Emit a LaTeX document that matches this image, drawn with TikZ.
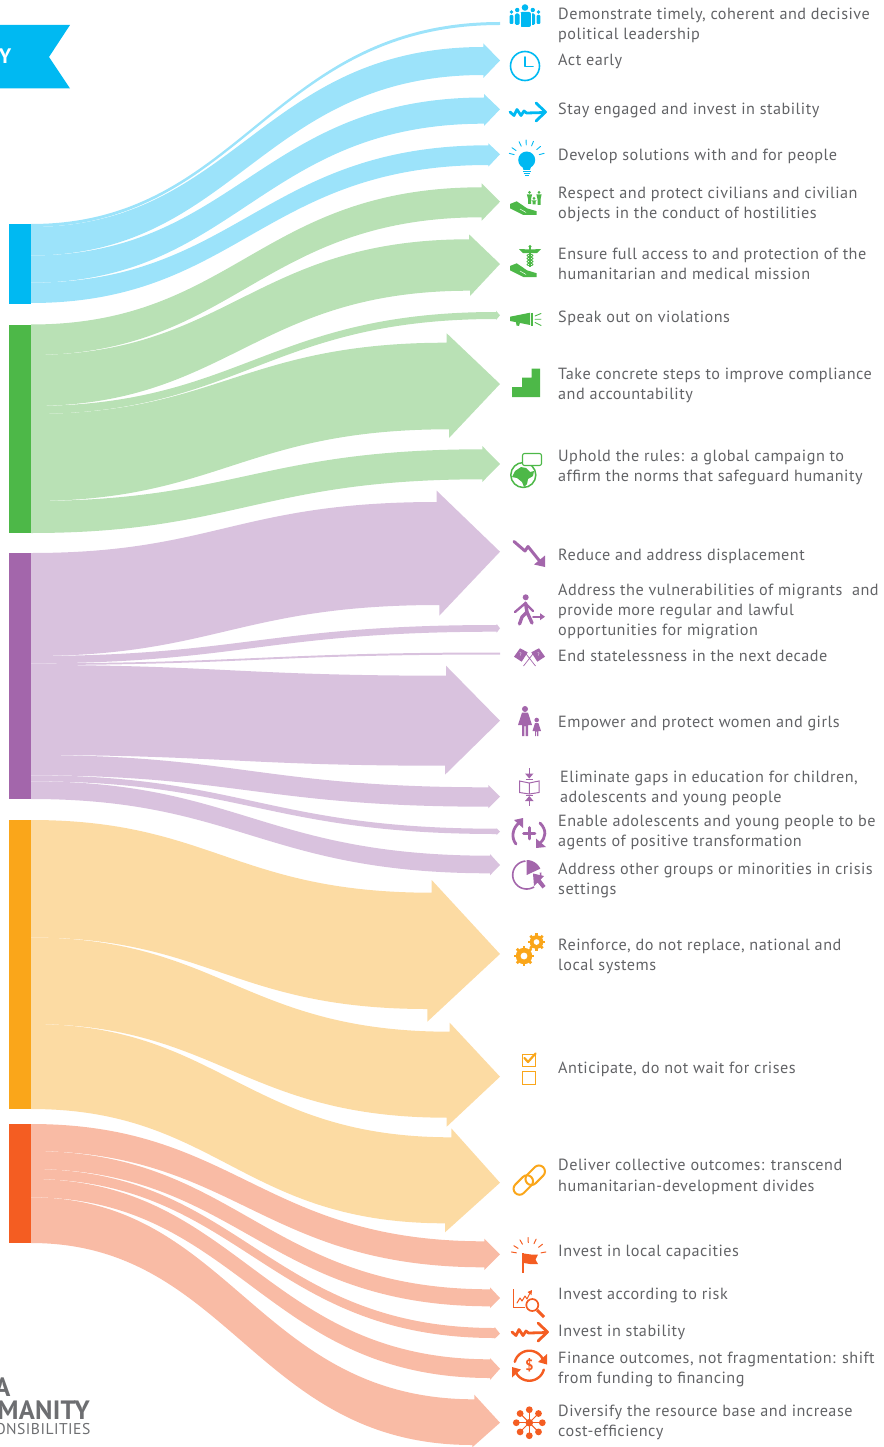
\documentclass[tikz,border=0pt]{standalone}
\usepackage{fontspec}
\setmainfont[LetterSpace=3]{PT Sans}
\newfontfamily\logobold[LetterSpace=1]{PT Sans Bold}
\definecolor{barblue}{HTML}{00B9F2}\definecolor{flowblue}{HTML}{9CE3FA}
\definecolor{bargreen}{HTML}{4DB848}\definecolor{flowgreen}{HTML}{B9E1B5}
\definecolor{barpurple}{HTML}{A366AB}\definecolor{flowpurple}{HTML}{D9C2DE}
\definecolor{barorange}{HTML}{FAA61A}\definecolor{floworange}{HTML}{FCDBA3}
\definecolor{barred}{HTML}{F45D22}\definecolor{flowred}{HTML}{F9BBA5}
\definecolor{txtgrey}{HTML}{626366}\definecolor{logogrey}{HTML}{6D6E71}
\tikzset{
 barbox/.style={draw=none,inner sep=0pt,minimum width=22pt},
 lbl/.style={anchor=north west,inner sep=0pt,align=left,text=txtgrey,font=\fontsize{16.2}{20}\selectfont},
 ic/.style={line width=#1,line cap=round,line join=round},
 ic/.default=1.5pt
}
\newcommand{\lbl}[4]{\node[lbl] (#1) at (#2,{#3-14}) {\strut #4};}
\newcommand{\zig}[3]{% x,y,colour: stability arrow
 \draw[#3,ic=2.8pt] (#1,#2) -- ++(4,3.5) -- ++(3,-6) -- ++(4,6) -- ++(3,-4.5) -- ++(2.5,2) -- ++(18.5,-.5);
 \draw[#3,ic=2.8pt] (#1+26,#2-9) -- (#1+35.5,#2) -- (#1+26,#2+9);}
\newcommand{\handic}[1]{%
 \fill[bargreen] (510,204+#1) -- (516.7,201.3+#1) -- (527,208.3+#1) -- (536.5,211.2+#1) -- (536.5,215+#1) -- (523.3,215+#1) -- (510,208.3+#1) -- cycle;
 \draw[white,line width=.5pt] (520,209+#1) -- (526,212.5+#1);}
\newcommand{\pers}[4]{% x, top y, height, colour
 \fill[#4] (#1,#2+1.3) circle (1.5);
 \fill[#4] (#1-2.6,#2+3.5) -- (#1+2.6,#2+3.5) -- (#1+1.5,#2+#3*.6) -- (#1+1.5,#2+#3) -- (#1-1.5,#2+#3) -- (#1-1.5,#2+#3*.6) -- cycle;}
\begin{document}
\begin{tikzpicture}[x=1pt,y=-1pt]
\useasboundingbox (0,0) rectangle (883,1447);
\clip (0,0) rectangle (883,1447);
% banner
\fill[barblue] (0,25) -- (70,25) -- (49,57) -- (70,88.5) -- (0,88.5) -- cycle;
\node[inner sep=0pt,text=white,font=\fontsize{21}{22}\logobold\selectfont] (ban) at (5.2,56) {Y};
% flows
\foreach \fN/\fC/\fLt/\fLb/\fXt/\fSt/\fHt/\fXb/\fSb/\fHb/\fTp in {
 a/flowblue/224/227/500/22/22/500/25/25/23.5,
 b/flowblue/227/255.5/483.3/47/43.3/483.3/75/78/60.5,
 c/flowblue/255.5/282.7/484/97.5/94/484/123.7/126/109.3,
 d/flowblue/282.7/303/488.3/145.3/143.3/488.3/165/166.7/154.3,
 e/flowgreen/324.5/355/481.7/187.3/183.3/481.7/217.3/220.7/201.7,
 f/flowgreen/355/406/469/239.3/234.3/470/290.7/296/264,
 g/flowgreen/406/414/496/312/310.7/496/319/320/315.3,
 h/flowgreen/414/501/446.7/342.7/333.3/449/429.3/438/384,
 i/flowgreen/501/533/482.3/449.3/446/482.3/479.3/482/464,
 j/flowpurple/553/656/436.7/502/490.7/439.3/605/615.7/551.7,
 k/flowpurple/656/663.3/496.7/625/624/496.7/631.7/632.7/628.3,
 l/flowpurple/663.3/665/500/652.5/652.5/500/654.5/654.5/653.5,
 m/flowpurple/665/755/446/675.7/665.7/445/765.7/774.7/720.7,
 n/flowpurple/755/775.3/488.3/787.3/785/488.3/806.7/808.3/796.7,
 o/flowpurple/775.3/781.3/496.7/828.7/828.3/496.7/834/835/831.7,
 p/flowpurple/781.3/799/490/855.7/854/490/873.3/875.3/865,
 q/floworange/820/937.5/431.7/892.7/880/427.3/1009/1021.7/954,
 r/floworange/937.5/1024/449.7/1031.7/1022.7/446.7/1117.7/1126.7/1076.7,
 s/floworange/1024/1109/451.3/1137.3/1128.3/445/1223.3/1232.3/1182.7,
 t/flowred/1124/1151/484.3/1241.3/1238.7/484.3/1267.3/1270/1254.3,
 u/flowred/1151/1169/490/1289.3/1287.3/490/1306.3/1308/1298,
 v/flowred/1169/1179/494.7/1328/1327/494.7/1338/1338.7/1333.7,
 w/flowred/1179/1197.3/490/1359.3/1358/490/1378/1380/1368.7,
 x/flowred/1197.3/1243/474.3/1399.3/1394.7/472.3/1445/1447.3/1422.7}
{
 \pgfmathsetmacro\fCa{31+.45*(\fXt-31)}\pgfmathsetmacro\fCb{31+.51*(\fXt-31)}
 \pgfmathsetmacro\fCc{31+.45*(\fXb-31)}\pgfmathsetmacro\fCd{31+.51*(\fXb-31)}
 \coordinate (\fN lt) at (31,\fLt); \coordinate (\fN lb) at (31,\fLb);
 \coordinate (\fN st) at (\fXt,\fSt); \coordinate (\fN ht) at (\fXt,\fHt);
 \coordinate (\fN sb) at (\fXb,\fSb); \coordinate (\fN hb) at (\fXb,\fHb);
 \coordinate (\fN tip) at (500,\fTp);
 \coordinate (\fN c1) at (\fCa,\fLt); \coordinate (\fN c2) at (\fCb,\fSt);
 \coordinate (\fN c3) at (\fCd,\fSb); \coordinate (\fN c4) at (\fCc,\fLb);
 \fill[\fC] (\fN lt) .. controls (\fN c1) and (\fN c2) .. (\fN st) -- (\fN ht) -- (\fN tip) -- (\fN hb) -- (\fN sb) .. controls (\fN c3) and (\fN c4) .. (\fN lb) -- cycle;
}
% bars
\node[barbox,fill=barblue,minimum height=80pt] (b1) at (20,264) {};
\node[barbox,fill=bargreen,minimum height=208pt] (b2) at (20,429) {};
\node[barbox,fill=barpurple,minimum height=246pt] (b3) at (20,676) {};
\node[barbox,fill=barorange,minimum height=289pt] (b4) at (20,964.5) {};
\node[barbox,fill=barred,minimum height=119pt] (b5) at (20,1183.5) {};
% labels
\lbl{t1}{558}{19}{Demonstrate timely, coherent and decisive\\political leadership}
\lbl{t2}{558}{65.3}{Act early}
\lbl{t3}{558}{114.3}{Stay engaged and invest in stability}
\lbl{t4}{558}{160}{Develop solutions with and for people}
\lbl{t5}{558}{198.3}{Respect and protect civilians and civilian\\objects in the conduct of hostilities}
\lbl{t6}{558}{259.3}{Ensure full access to and protection of the\\humanitarian and medical mission}
\lbl{t7}{558}{322}{Speak out on violations}
\lbl{t8}{558}{379.3}{Take concrete steps to improve compliance\\and accountability}
\lbl{t9}{558}{461.7}{Uphold the rules: a global campaign to\\affirm the norms that safeguard humanity}
\lbl{t10}{558}{560}{Reduce and address displacement}
\lbl{t11}{558}{595}{Address the vulnerabilities of migrants\ \ and\\provide more regular and lawful\\opportunities for migration}
\lbl{t12}{558}{661}{End statelessness in the next decade}
\lbl{t13}{558}{727.3}{Empower and protect women and girls}
\lbl{t14}{560}{782.3}{Eliminate gaps in education for children,\\adolescents and young people}
\lbl{t15}{558}{826}{Enable adolescents and young people to be\\agents of positive transformation}
\lbl{t16}{558}{874.3}{Address other groups or minorities in crisis\\settings}
\lbl{t17}{558}{950}{Reinforce, do not replace, national and\\local systems}
\lbl{t18}{558}{1073}{Anticipate, do not wait for crises}
\lbl{t19}{558}{1170.7}{Deliver collective outcomes: transcend\\[1pt]humanitarian-development divides}
\lbl{t20}{558}{1256}{Invest in local capacities}
\lbl{t21}{558}{1299.3}{Invest according to risk}
\lbl{t22}{558}{1336}{Invest in stability}
\lbl{t23}{558}{1363.3}{Finance outcomes, not fragmentation: shift\\from funding to financing}
\lbl{t24}{558}{1416}{Diversify the resource base and increase\\cost-efficiency}
% logo
\node[anchor=base east,inner sep=0pt,text=logogrey,font=\fontsize{26.5}{28}\logobold\selectfont] (logoa) at (10.5,1396) {A};
\node[anchor=base east,inner sep=0pt,text=logogrey,font=\fontsize{26.5}{28}\logobold\selectfont] (logob) at (90,1419) {MANITY};
\node[anchor=base east,inner sep=0pt,text=logogrey,font=\fontsize{15.6}{18}\selectfont] (logoc) at (90.5,1434) {ONSIBILITIES};
%%% icons
% people
\fill[barblue] (525,7.5) circle (3.3);
\fill[barblue,rounded corners=2pt] (520,12) rectangle (531,27);
\foreach \x in {517.2,532.8}{\fill[barblue] (\x,10) circle (2.2);\fill[barblue,rounded corners=1.5pt] (\x-2.3,13.5) rectangle (\x+2.3,25);}
\foreach \x in {511.5,538.5}{\fill[barblue] (\x,12) circle (1.8);\fill[barblue,rounded corners=1pt] (\x-1.8,15) rectangle (\x+1.8,24);}
\draw[white,line width=.7pt] (520,13) -- (520,27) (531,13) -- (531,27);
% clock
\draw[barblue,ic=1.6pt] (525,66) circle (14.5);
\draw[barblue,ic=1.6pt] (525,57) -- (525,66.5) -- (533,66.5);
% stability
\zig{510}{112}{barblue}
% bulb
\fill[barblue] (526.7,160) circle (8.5);
\fill[barblue] (522,165) -- (531.5,165) -- (530,170) -- (523.5,170) -- cycle;
\draw[barblue,line width=.9pt] (523,171.5) -- (530.5,171.5) (523.5,173.5) -- (530,173.5) (525,175.5) -- (528.5,175.5);
\foreach \a in {-165,-145,-115,-92,-68,-40,-15}{\draw[barblue,ic=.9pt] ({526.7+13*cos(\a)},{158+13*sin(\a)}) -- ({526.7+18*cos(\a)},{158+18*sin(\a)});}
% hand + family
\handic{0}
\pers{529.5}{191}{13}{bargreen}\pers{539}{191}{14}{bargreen}\pers{534}{197}{7.5}{bargreen}
% hand + caduceus
\handic{62}
\fill[bargreen] (530,249.5) -- (519,249) -- (523,253.2) -- (530,253) -- (537,253.2) -- (541,249) -- cycle;
\fill[bargreen] (530,246.5) circle (1.6);
\draw[bargreen,line width=1.2pt] (530,246) -- (530,267);
\draw[bargreen,line width=.9pt] plot[domain=0:720,samples=30] ({530+3*sin(\x)},{254+\x/60}) plot[domain=0:720,samples=30] ({530-3*sin(\x)},{254+\x/60});
% megaphone
\fill[bargreen] (510,316.7) -- (530,312.7) -- (530,325) -- (510,321) -- cycle;
\fill[bargreen] (516,322) -- (520,322.5) -- (519,326) -- (516.5,325.5) -- cycle;
\draw[bargreen,line width=1.2pt] (532,312.5) -- (532,325.5);
\draw[bargreen,ic=.9pt] (535,316) -- (541,313.5) (535,319.2) -- (541,319.2) (535,322.5) -- (541,325.5);
% stairs
\fill[bargreen] (512,397) -- (540,397) -- (540,368.5) -- (531.5,368.5) -- (531.5,377.5) -- (522,377.5) -- (522,387) -- (512,387) -- cycle;
% globe
\draw[bargreen,ic=1.5pt] (523.3,475) circle (12.5);
\fill[bargreen] (515,471) -- (521,467) -- (526,468) -- (530,472) -- (534,471) -- (533,476) -- (528,479) -- (527,484) -- (524,487) -- (522,482) -- (517,478) -- (512,477) -- cycle;
\draw[bargreen,fill=white,line width=1.1pt,rounded corners=2pt] (522.5,453.5) rectangle (541.5,465.5);
% displacement
\draw[barpurple,ic=3pt] (514,541.5) -- (525,551) -- (528,546.5) -- (540,561.5);
\fill[barpurple] (545,567) -- (545,555.5) -- (534,564.5) -- cycle;
% migrant
\fill[barpurple] (525.7,597.3) circle (3);
\draw[barpurple,ic=3.4pt] (525.5,603) -- (527,612) -- (532,623) (527,612) -- (522,617) -- (519.5,624);
\draw[barpurple,ic=2.4pt] (525,603.5) -- (515,612) (526,604) -- (533,611);
\draw[barpurple,ic=1.8pt] (533,616.7) -- (541,616.7);
\fill[barpurple] (545,616.7) -- (540,613.2) -- (540,620.2) -- cycle;
% flags
\fill[barpurple] (514,656.7) -- (520,648.3) -- (527.7,652.3) -- (521.7,661.7) -- cycle;
\fill[barpurple] (545,656.7) -- (539,648.3) -- (531.3,652.3) -- (537.3,661.7) -- cycle;
\draw[barpurple,line width=.7pt] (523,650) -- (535.5,666) (536,650) -- (523.5,666);
\node[inner sep=0pt,text=white,font=\fontsize{5}{5}\selectfont] (fq1) at (520.5,655) {?};
\node[inner sep=0pt,text=white,font=\fontsize{5}{5}\selectfont] (fq2) at (538.5,655) {?};
% woman and child
\fill[barpurple] (525,709) circle (3);
\fill[barpurple] (522,712.5) -- (528,712.5) -- (532,725) -- (528,725) -- (528,736) -- (525.6,736) -- (525.6,726) -- (524.4,726) -- (524.4,736) -- (522,736) -- (522,725) -- (518,725) -- cycle;
\fill[barpurple] (536.7,720) circle (2.3);
\fill[barpurple] (535,723) -- (538.4,723) -- (541,731) -- (538.4,731) -- (538.4,736) -- (537.2,736) -- (537.2,731.5) -- (536.2,731.5) -- (536.2,736) -- (535,736) -- (535,731) -- (532.5,731) -- cycle;
% book
\draw[barpurple,line width=1pt] (519.5,781) -- (529.3,783) -- (539,781) -- (539,792.5) -- (529.3,794) -- (519.5,792.5) -- cycle (529.3,783) -- (529.3,794);
\fill[barpurple] (529.3,778.5) -- (525,773.5) -- (533.5,773.5) -- cycle;
\draw[barpurple,line width=1.6pt] (529.3,768) -- (529.3,775) (525.5,779.5) -- (533,779.5);
\fill[barpurple] (529.3,796) -- (525,801) -- (533.5,801) -- cycle;
\draw[barpurple,line width=1.6pt] (529.3,799) -- (529.3,806) (525.5,795.5) -- (533,795.5);
% plus arrows
\draw[barpurple,ic=2.6pt] (523.5,833.3) -- (535,833.3) (529.3,827.5) -- (529.3,839);
\draw[barpurple,ic=2.8pt] (520,822) .. controls (512,828) and (511,838) .. (516,844);
\fill[barpurple] (523,818) -- (523,828) -- (514,820) -- cycle;
\draw[barpurple,ic=2.8pt] (540,823) .. controls (547,830) and (546,838) .. (540,843);
\fill[barpurple] (536,848) -- (536,838.5) -- (546,847) -- cycle;
% pie + cursor
\draw[barpurple,line width=1.6pt] plot[domain=-10:265,samples=40] ({526.7+14*cos(\x)},{875+14*sin(\x)});
\fill[barpurple] (526.7,875) -- (526.7,860) -- plot[domain=-90:-25,samples=12] ({526.7+15*cos(\x)},{875+15*sin(\x)}) -- cycle;
\fill[white] (533,872) -- (548,887) -- (541,895) -- (530,882) -- cycle;
\fill[barpurple] (533,873.5) -- (544,876) -- (540.5,879.5) -- (545.5,886) -- (542.5,888.5) -- (537.5,882.5) -- (534,886) -- cycle;
% gears
\foreach \cx/\cy/\r in {524/956/8.2,536.5/942/6.8}{
 \fill[barorange] (\cx,\cy) circle (\r);
 \foreach \a in {0,45,...,315}{\draw[barorange,line width=2.8pt] ({\cx+(\r-1)*cos(\a)},{\cy+(\r-1)*sin(\a)}) -- ({\cx+(\r+2)*cos(\a)},{\cy+(\r+2)*sin(\a)});}
 \fill[white] (\cx,\cy) circle ({\r*.42});
}
% checkboxes
\draw[barorange,line width=1pt] (522,1054.5) rectangle (535,1066) (522,1071.5) rectangle (535,1084);
\draw[barorange,ic=2.2pt] (524.5,1058) -- (528,1062) -- (535.5,1053.5);
% chain
\draw[barorange,line width=2pt,rounded corners=6pt,rotate around={45:(523.3,1185)}] (512,1179) rectangle (534.6,1191);
\draw[barorange,line width=2pt,rounded corners=6pt,rotate around={45:(535.2,1175.2)}] (523.9,1169.2) rectangle (546.5,1181.2);
% flag + rays
\fill[barred] (521.5,1253) rectangle (524,1273);
\fill[barred] (524,1253.5) -- (531,1254.5) -- (538,1254.5) -- (535.5,1259.5) -- (538,1264) -- (530,1264) -- (524,1263) -- cycle;
\foreach \a in {-170,-148,-120,-92,-65,-38,-10}{\draw[barred,ic=1pt] ({528.7+12.5*cos(\a)},{1255+12.5*sin(\a)}) -- ({528.7+17.5*cos(\a)},{1255+17.5*sin(\a)});}
% risk chart
\draw[barred,line width=.9pt] (513.5,1289) -- (513.5,1307.5) -- (525,1307.5);
\draw[barred,ic=1pt] (517,1303) -- (520,1298) -- (522,1301) -- (525,1296) -- (527,1299) -- (530,1293);
\fill[barred] (532,1290) -- (527.5,1292) -- (531.5,1295) -- cycle;
\draw[barred,line width=1.7pt] (532.3,1305) circle (6);
\draw[barred,line width=3pt] (537,1310) -- (544,1317);
% stability red
\zig{512}{1332}{barred}
% finance
\draw[barred,ic=2.4pt] plot[domain=-165:-25,samples=30] ({529.3+15*cos(\x)},{1365.7+15*sin(\x)});
\draw[barred,ic=2.4pt] plot[domain=15:155,samples=30] ({529.3+15*cos(\x)},{1365.7+15*sin(\x)});
\fill[barred] (547,1354) -- (547,1364.5) -- (538,1362) -- cycle;
\fill[barred] (512,1377.5) -- (512,1367) -- (521,1369.5) -- cycle;
\node[inner sep=0pt,text=barred,font=\fontsize{15}{15}\logobold\selectfont] (dollar) at (529.3,1365.7) {\$};
% hub
\foreach \a in {0,45,...,315}{
 \draw[barred,line width=1pt] (529.3,1422.7) -- ({529.3+13*cos(\a)},{1422.7+13*sin(\a)});
 \fill[barred] ({529.3+13*cos(\a)},{1422.7+13*sin(\a)}) circle (3.4);}
\fill[barred] (529.3,1422.7) circle (3.8);
\end{tikzpicture}
\end{document}
